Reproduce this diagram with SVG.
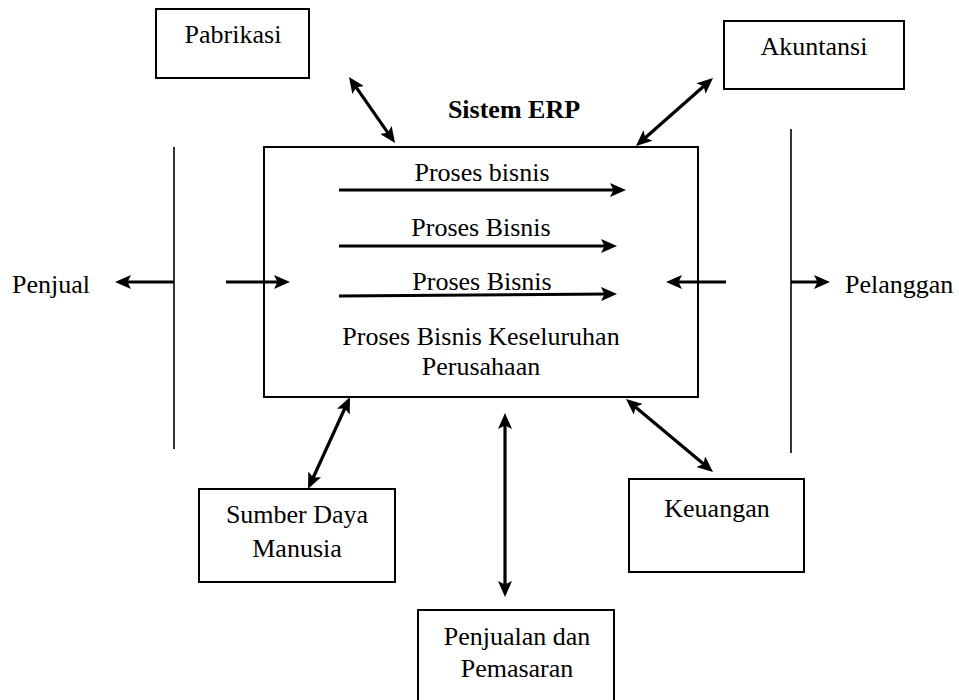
<svg xmlns="http://www.w3.org/2000/svg" width="959" height="700" viewBox="0 0 959 700">
<style>
  text { font-family: "Liberation Serif", "Times New Roman", serif; font-size: 26px; fill: #000; }
  .mid { text-anchor: middle; }
  .bold { font-weight: bold; }
  .box { fill: #fff; stroke: #000; stroke-width: 2; }
  .bar { stroke: #000; stroke-width: 1.6; fill: none; }
  .arr { stroke: #000; stroke-width: 3.2; fill: none; marker-end: url(#ah); }
  .dbl { stroke: #000; stroke-width: 3.2; fill: none; marker-start: url(#ah); marker-end: url(#ah); }
</style>
<defs>
  <marker id="ah" markerUnits="userSpaceOnUse" markerWidth="16" markerHeight="14" refX="10" refY="7" orient="auto-start-reverse" viewBox="0 0 16 14">
    <path d="M0,0 L16,7 L0,14 L3.5,7 Z" fill="#000"/>
  </marker>
</defs>
<rect width="959" height="700" fill="#fff"/>

<g id="erp-system">
  <rect class="box" x="264" y="147" width="434" height="250"/>
  <text class="mid bold" x="514" y="118">Sistem ERP</text>
  <text class="mid" x="482" y="181">Proses bisnis</text>
  <text class="mid" x="481" y="236">Proses Bisnis</text>
  <text class="mid" x="482" y="290">Proses Bisnis</text>
  <text class="mid" x="481" y="345">Proses Bisnis Keseluruhan</text>
  <text class="mid" x="481" y="375">Perusahaan</text>
</g>

<g id="pabrikasi">
  <rect class="box" x="156" y="9" width="153" height="69"/>
  <text class="mid" x="233" y="43">Pabrikasi</text>
</g>

<g id="akuntansi">
  <rect class="box" x="724" y="21" width="180" height="68"/>
  <text class="mid" x="814" y="55">Akuntansi</text>
</g>

<g id="penjual">
  <text x="12" y="293">Penjual</text>
</g>

<g id="pelanggan">
  <text x="845" y="293">Pelanggan</text>
</g>

<g id="sdm">
  <rect class="box" x="199" y="489" width="196" height="93"/>
  <text class="mid" x="297" y="523">Sumber Daya</text>
  <text class="mid" x="297" y="557">Manusia</text>
</g>

<g id="penjualan-pemasaran">
  <rect class="box" x="418" y="610" width="196" height="100"/>
  <text class="mid" x="517" y="645">Penjualan dan</text>
  <text class="mid" x="517" y="677">Pemasaran</text>
</g>

<g id="keuangan">
  <rect class="box" x="629" y="479" width="175" height="93"/>
  <text class="mid" x="717" y="517">Keuangan</text>
</g>

<g id="connectors">
  <line class="bar" x1="174" y1="147" x2="174" y2="449"/>
  <line class="bar" x1="791" y1="129" x2="791" y2="453"/>

  <line class="arr" x1="339" y1="190" x2="620" y2="190"/>
  <line class="arr" x1="339" y1="246" x2="611" y2="246"/>
  <line class="arr" x1="339" y1="296" x2="611" y2="294"/>

  <line class="arr" x1="174" y1="282" x2="121" y2="282"/>
  <line class="arr" x1="226" y1="282" x2="284" y2="282"/>
  <line class="arr" x1="726" y1="282" x2="672" y2="282"/>
  <line class="arr" x1="791" y1="282" x2="824" y2="282"/>

  <line class="dbl" x1="352.4" y1="81.9" x2="391.6" y2="138.1"/>
  <line class="dbl" x1="708.5" y1="82" x2="640.5" y2="142"/>
  <line class="dbl" x1="347.5" y1="402.5" x2="310.5" y2="483.5"/>
  <line class="dbl" x1="505" y1="419" x2="505" y2="591"/>
  <line class="dbl" x1="630.6" y1="402.9" x2="708.4" y2="468.1"/>
</g>
</svg>
